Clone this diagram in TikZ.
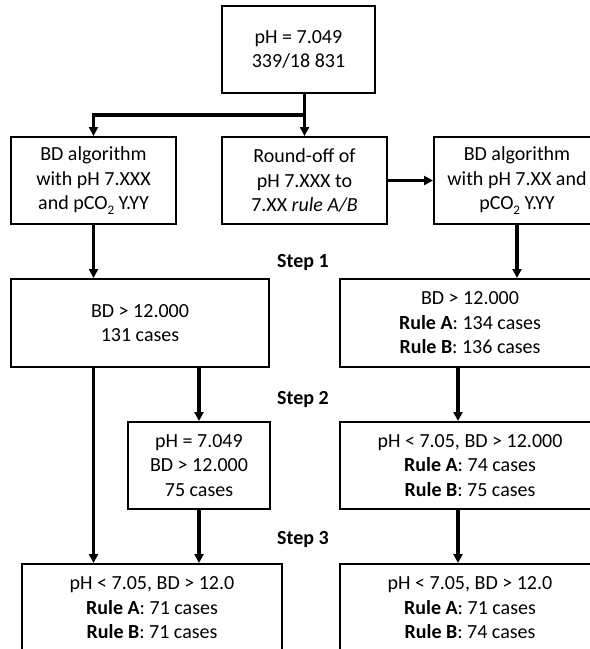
\documentclass[tikz,border=0pt]{standalone}
\usepackage{fontspec}
\setmainfont{Carlito}
\usetikzlibrary{arrows.meta}
\newcommand{\subtwo}{\raisebox{-0.22em}{\fontsize{13}{13}\selectfont 2}}
\begin{document}
\begin{tikzpicture}[x=1pt,y=-1pt,
  box/.style={draw, line width=2pt, align=center, inner sep=0pt, font=\fontsize{20}{24.5}\selectfont},
  arr/.style={line width=3.5pt, line join=miter, -{Triangle[length=9pt,width=9pt]}},
  steplbl/.style={anchor=west, inner sep=0pt, font=\fontsize{20}{24}\selectfont\bfseries}]
\useasboundingbox (0,0) rectangle (590,649);
\clip (0,0) rectangle (590,649);
\fill[white] (0,0) rectangle (590,649);

\node[box, minimum width=153pt, minimum height=87pt] (top) at (298.5,49.5) {pH = 7.049\\339/18 831};
\node[box, minimum width=165pt, minimum height=87pt] (left) at (93.5,180.5) {BD algorithm\\with pH 7.XXX\\and pCO\subtwo{} Y.YY};
\node[box, minimum width=165pt, minimum height=87pt] (mid) at (304.5,180.5) {Round-off of\\pH 7.XXX to\\7.XX \textit{rule A/B}};
\node[box, minimum width=166pt, minimum height=87pt] (right) at (517,180.5) {BD algorithm\\with pH 7.XX and\\pCO\subtwo{} Y.YY};

\node[box, minimum width=258pt, minimum height=88pt] (L1) at (140,323) {BD > 12.000\\131 cases};
\node[box, minimum width=260pt, minimum height=88pt] (R1) at (470,323) {BD > 12.000\\\textbf{Rule A}: 134 cases\\\textbf{Rule B}: 136 cases};

\node[box, minimum width=142pt, minimum height=87pt] (S2) at (199,465.5) {pH = 7.049\\BD > 12.000\\75 cases};
\node[box, minimum width=260pt, minimum height=87pt] (R2) at (470,465.5) {pH < 7.05, BD > 12.000\\\textbf{Rule A}: 74 cases\\\textbf{Rule B}: 75 cases};

\node[box, minimum width=260pt, minimum height=88pt] (L3) at (152,608) {pH < 7.05, BD > 12.0\\\textbf{Rule A}: 71 cases\\\textbf{Rule B}: 71 cases};
\node[box, minimum width=260pt, minimum height=88pt] (R3) at (470,608) {pH < 7.05, BD > 12.0\\\textbf{Rule A}: 71 cases\\\textbf{Rule B}: 74 cases};

\node[steplbl] (s1) at (277,263) {Step 1};
\node[steplbl] (s2) at (277,400) {Step 2};
\node[steplbl] (s3) at (277,540) {Step 3};

\coordinate (j) at (305,115);
\coordinate (rx) at (458,0);
\draw[arr] (mid.north |- top.south) -- (mid.north);
\draw[arr] (j) -| (left.north);
\draw[arr] (mid.east) -- (right.west);
\draw[arr] (left.south) -- (left.south |- L1.north);
\draw[arr] (right.south) -- (right.south |- R1.north);
\draw[arr] (L1.south -| left.south) -- (L3.north -| left.south);
\draw[arr] (S2.north |- L1.south) -- (S2.north);
\draw[arr] (S2.south) -- (S2.south |- L3.north);
\draw[arr] (R1.south -| rx) -- (R2.north -| rx);
\draw[arr] (R2.south -| rx) -- (R3.north -| rx);
\end{tikzpicture}
\end{document}
